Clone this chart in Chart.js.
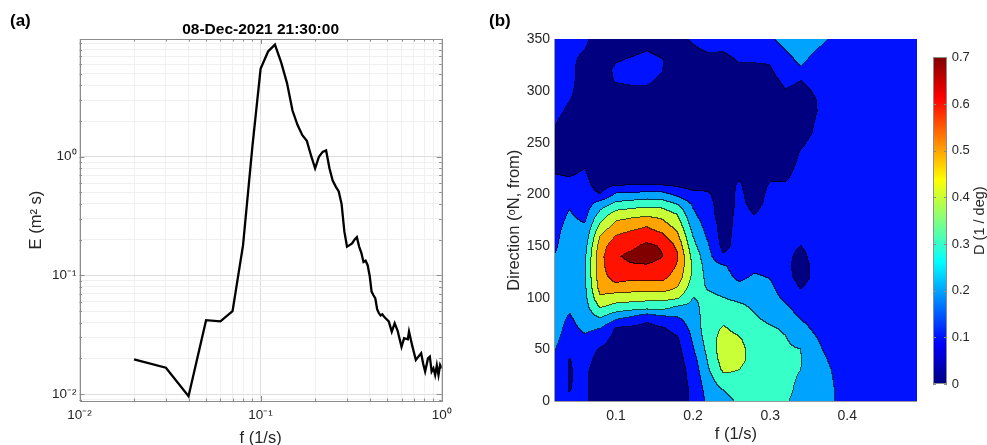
<!DOCTYPE html>
<html>
<head>
<meta charset="utf-8">
<script src="https://cdn.jsdelivr.net/npm/chart.js@4.4.1/dist/chart.umd.min.js"></script>
<style>
  html, body { margin: 0; padding: 0; background: #fff; }
  body { width: 987px; height: 445px; position: relative; overflow: hidden; font-family: "Liberation Sans", Arial, sans-serif; }
  canvas { position: absolute; top: 0; }
  .panel { position: absolute; font-weight: bold; font-size: 17px; line-height: 1; color: #000; z-index: 5; }
</style>
</head>
<body>
<canvas id="spec" width="490" height="445" style="left:0"></canvas>
<canvas id="dirspec" width="440" height="445" style="left:490px"></canvas>
<canvas id="cbar" width="62" height="445" style="left:925px"></canvas>
<div class="panel" style="left:10px;top:12px">(a)</div>
<div class="panel" style="left:489px;top:12px">(b)</div>
<script>
// (a) energy spectrum
const specFreq = [0.02,0.03,0.04,0.05,0.06,0.07,0.08,0.09,0.10,0.11,0.12,0.13,0.14,0.15,0.16,0.17,0.18,0.19,0.20,0.21,
  0.22,0.23,0.24,0.25,0.26,0.27,0.28,0.29,0.30,0.31,0.32,0.33,0.34,0.35,0.36,0.37,0.38,0.39,0.40,0.41,
  0.42,0.43,0.44,0.45,0.46,0.47,0.48,0.49,0.51,0.53,0.55,0.57,0.60,0.62,0.65,0.66,0.69,0.72,0.74,0.77,
  0.79,0.81,0.84,0.86,0.88,0.90,0.92,0.94,0.96,0.98,1.00];
const specEnergy = [0.0196,0.0167,0.0096,0.042,0.041,0.050,0.18,1.2,5.5,7.7,8.8,6.2,4.15,2.45,1.85,1.52,1.36,1.02,0.80,1.0,
  1.10,1.13,0.80,0.63,0.56,0.51,0.40,0.235,0.175,0.18,0.186,0.20,0.21,0.175,0.155,0.13,0.133,0.122,0.10,0.073,
  0.068,0.064,0.052,0.048,0.046,0.047,0.045,0.0436,0.041,0.0336,0.0395,0.0345,0.025,0.0296,0.029,0.0336,0.025,0.0194,0.0205,0.0221,
  0.018,0.0155,0.020,0.0207,0.0155,0.0165,0.0145,0.0175,0.0145,0.0176,0.0165];
const specTitle = '08-Dec-2021 21:30:00';
const logMajor = [0.01, 0.1, 1];
const logMajorLabels = ['10\u207B\u00B2', '10\u207B\u00B9', '10\u2070'];
const logSteps = [1, 2, 3, 4, 5, 6, 7, 8, 9];

// (b) directional distribution D(f, dir); one row per frequency, values at dirAngle
const dirFreq = [0.02,0.04,0.06,0.08,0.10,0.12,0.14,0.16,0.18,0.20,0.22,0.24,0.26,0.28,0.30,0.32,0.34,0.36,0.38,0.40,0.42,0.44,0.46,0.48,0.50];
const dirAngle = [0,10,20,30,40,50,60,70,80,90,100,110,120,130,140,150,160,170,180,190,200,210,220,230,240,250,260,270,280,290,300,310,320,330,340,350];
const spread = [
  [0.14,0.15,0.16,0.17,0.19,0.21,0.23,0.24,0.24,0.25,0.25,0.24,0.23,0.22,0.20,0.18,0.17,0.16,0.15,0.14,0.13,0.12,0.10,0.08,0.07,0.08,0.09,0.11,0.13,0.14,0.14,0.14,0.13,0.13,0.13,0.14],
  [0.11,0.098,0.095,0.095,0.097,0.12,0.15,0.17,0.19,0.21,0.23,0.25,0.26,0.27,0.27,0.26,0.25,0.23,0.21,0.19,0.15,0.12,0.09,0.06,0.05,0.05,0.05,0.06,0.08,0.10,0.12,0.13,0.13,0.13,0.13,0.14],
  [0.12,0.12,0.12,0.12,0.13,0.15,0.18,0.22,0.24,0.26,0.27,0.28,0.29,0.29,0.28,0.26,0.23,0.205,0.17,0.15,0.14,0.13,0.11,0.09,0.06,0.05,0.05,0.05,0.05,0.05,0.05,0.05,0.05,0.07,0.10,0.12],
  [0.03,0.03,0.04,0.05,0.07,0.09,0.14,0.20,0.30,0.40,0.49,0.54,0.56,0.57,0.57,0.55,0.50,0.42,0.34,0.25,0.10,0.05,0.04,0.04,0.04,0.04,0.04,0.04,0.04,0.04,0.04,0.04,0.04,0.04,0.04,0.05],
  [0.04,0.04,0.04,0.05,0.05,0.06,0.07,0.09,0.22,0.36,0.45,0.57,0.64,0.67,0.69,0.66,0.60,0.53,0.45,0.33,0.21,0.08,0.04,0.04,0.04,0.04,0.04,0.04,0.04,0.04,0.07,0.11,0.12,0.09,0.05,0.05],
  [0.03,0.03,0.03,0.04,0.04,0.05,0.06,0.08,0.18,0.34,0.45,0.55,0.63,0.69,0.72,0.68,0.63,0.56,0.47,0.35,0.22,0.08,0.04,0.04,0.04,0.04,0.04,0.04,0.04,0.04,0.08,0.12,0.13,0.11,0.07,0.05],
  [0.03,0.03,0.03,0.03,0.04,0.04,0.05,0.07,0.12,0.33,0.44,0.55,0.63,0.69,0.74,0.72,0.65,0.59,0.48,0.37,0.23,0.08,0.04,0.04,0.04,0.04,0.04,0.04,0.04,0.04,0.08,0.12,0.13,0.13,0.095,0.06],
  [0.03,0.03,0.03,0.04,0.04,0.05,0.06,0.09,0.17,0.33,0.44,0.56,0.63,0.67,0.705,0.69,0.62,0.54,0.47,0.36,0.23,0.08,0.04,0.04,0.04,0.04,0.04,0.04,0.04,0.04,0.05,0.08,0.105,0.105,0.07,0.05],
  [0.04,0.04,0.05,0.05,0.06,0.07,0.09,0.13,0.19,0.28,0.42,0.50,0.56,0.59,0.61,0.58,0.52,0.46,0.40,0.30,0.17,0.07,0.04,0.04,0.04,0.04,0.04,0.04,0.04,0.04,0.04,0.04,0.04,0.05,0.05,0.08],
  [0.12,0.12,0.13,0.14,0.16,0.19,0.21,0.23,0.25,0.27,0.30,0.35,0.38,0.39,0.37,0.33,0.30,0.26,0.22,0.19,0.12,0.06,0.05,0.05,0.05,0.05,0.05,0.05,0.05,0.05,0.05,0.05,0.05,0.06,0.09,0.11],
  [0.22,0.24,0.26,0.29,0.31,0.33,0.35,0.36,0.35,0.34,0.32,0.29,0.27,0.25,0.23,0.21,0.18,0.16,0.14,0.13,0.11,0.07,0.05,0.05,0.05,0.05,0.05,0.05,0.05,0.05,0.05,0.05,0.06,0.08,0.11,0.13],
  [0.28,0.30,0.36,0.42,0.45,0.46,0.44,0.41,0.37,0.33,0.30,0.26,0.23,0.21,0.11,0.07,0.06,0.06,0.05,0.05,0.05,0.05,0.05,0.05,0.05,0.05,0.05,0.05,0.05,0.05,0.05,0.05,0.05,0.07,0.11,0.13],
  [0.31,0.33,0.37,0.40,0.43,0.43,0.41,0.37,0.34,0.32,0.28,0.22,0.18,0.16,0.15,0.14,0.14,0.13,0.13,0.12,0.12,0.11,0.08,0.05,0.05,0.05,0.05,0.05,0.05,0.05,0.05,0.06,0.08,0.11,0.14,0.16],
  [0.32,0.32,0.34,0.35,0.36,0.36,0.35,0.33,0.31,0.29,0.27,0.24,0.21,0.18,0.15,0.13,0.12,0.11,0.10,0.08,0.06,0.05,0.05,0.05,0.05,0.05,0.05,0.05,0.05,0.05,0.05,0.06,0.08,0.11,0.13,0.15],
  [0.33,0.33,0.33,0.34,0.34,0.33,0.32,0.31,0.28,0.26,0.24,0.22,0.195,0.17,0.15,0.14,0.13,0.13,0.13,0.12,0.12,0.105,0.08,0.06,0.05,0.05,0.05,0.05,0.05,0.05,0.05,0.07,0.09,0.11,0.15,0.18],
  [0.31,0.32,0.32,0.32,0.32,0.31,0.305,0.29,0.25,0.22,0.18,0.15,0.13,0.12,0.12,0.12,0.13,0.13,0.13,0.13,0.12,0.105,0.08,0.06,0.05,0.05,0.05,0.05,0.06,0.08,0.095,0.12,0.15,0.17,0.20,0.24],
  [0.27,0.28,0.29,0.30,0.305,0.30,0.27,0.23,0.195,0.16,0.12,0.095,0.07,0.07,0.08,0.10,0.12,0.13,0.13,0.13,0.13,0.13,0.13,0.12,0.105,0.09,0.07,0.06,0.06,0.07,0.08,0.10,0.19,0.22,0.25,0.26],
  [0.25,0.25,0.25,0.25,0.24,0.22,0.205,0.18,0.16,0.15,0.14,0.13,0.12,0.12,0.13,0.13,0.13,0.13,0.13,0.13,0.13,0.13,0.13,0.13,0.12,0.12,0.11,0.105,0.097,0.098,0.11,0.13,0.15,0.17,0.20,0.23],
  [0.21,0.21,0.205,0.20,0.185,0.17,0.16,0.15,0.14,0.14,0.14,0.14,0.14,0.14,0.14,0.14,0.14,0.14,0.14,0.14,0.14,0.14,0.14,0.14,0.14,0.14,0.14,0.14,0.14,0.14,0.14,0.14,0.15,0.16,0.17,0.19],
  [0.16,0.16,0.16,0.155,0.16,0.16,0.15,0.15,0.15,0.15,0.15,0.15,0.15,0.15,0.15,0.15,0.15,0.15,0.15,0.15,0.15,0.15,0.15,0.15,0.15,0.15,0.15,0.15,0.15,0.15,0.15,0.15,0.15,0.15,0.16,0.17],
  [0.16,0.16,0.16,0.16,0.15,0.15,0.15,0.15,0.15,0.15,0.15,0.15,0.15,0.15,0.15,0.15,0.15,0.15,0.15,0.15,0.15,0.15,0.15,0.15,0.15,0.15,0.15,0.15,0.15,0.15,0.15,0.15,0.15,0.15,0.15,0.16],
  [0.15,0.15,0.15,0.15,0.15,0.15,0.15,0.15,0.15,0.15,0.15,0.15,0.15,0.15,0.15,0.15,0.15,0.15,0.15,0.15,0.15,0.15,0.15,0.15,0.15,0.15,0.15,0.15,0.15,0.15,0.15,0.15,0.15,0.15,0.15,0.15],
  [0.15,0.15,0.15,0.15,0.15,0.15,0.15,0.15,0.15,0.15,0.15,0.15,0.15,0.15,0.15,0.15,0.15,0.15,0.15,0.15,0.15,0.15,0.15,0.15,0.15,0.15,0.15,0.15,0.15,0.15,0.15,0.15,0.15,0.15,0.15,0.15],
  [0.15,0.15,0.15,0.15,0.15,0.15,0.15,0.15,0.15,0.15,0.15,0.15,0.15,0.15,0.15,0.15,0.15,0.15,0.15,0.15,0.15,0.15,0.15,0.15,0.15,0.15,0.15,0.15,0.15,0.15,0.15,0.15,0.15,0.15,0.15,0.15],
  [0.15,0.15,0.15,0.15,0.15,0.15,0.15,0.15,0.15,0.15,0.15,0.15,0.15,0.15,0.15,0.15,0.15,0.15,0.15,0.15,0.15,0.15,0.15,0.15,0.15,0.15,0.15,0.15,0.15,0.15,0.15,0.15,0.15,0.15,0.15,0.15]
];
const levels = [0, 0.1, 0.2, 0.3, 0.4, 0.5, 0.6, 0.7];
const dirXTicks = [0.1, 0.2, 0.3, 0.4];
const dirXTickLabels = ['0.1', '0.2', '0.3', '0.4'];
const dirYTicks = [0, 50, 100, 150, 200, 250, 300, 350];
const cbTicks = [0, 0.1, 0.2, 0.3, 0.4, 0.5, 0.6, 0.7];
const cbTickLabels = ['0', '0.1', '0.2', '0.3', '0.4', '0.5', '0.6', '0.7'];
const cbMax = 0.7;
const cbTitle = 'D (1 / deg)';

Chart.defaults.font.family = '"Liberation Sans", Arial, sans-serif';
Chart.defaults.color = '#262626';

const isMajor = v => logMajor.some(m => Math.abs(m - v) < m * 1e-6);
function logTicks(min, max) {
  const out = [];
  for (let e = -3; e <= 1; e++) {
    for (const m of logSteps) {
      const v = +(m * Math.pow(10, e)).toPrecision(3);
      if (v >= min * 0.9999 && v <= max * 1.0001) out.push({ value: v });
    }
  }
  return out;
}
function logLabel(v) {
  const i = logMajor.findIndex(m => Math.abs(m - v) < m * 1e-6);
  return i >= 0 ? logMajorLabels[i] : '';
}
const gridColor = c => (c.tick && isMajor(c.tick.value)) ? '#dedede' : '#f0f0f0';

// box + inward ticks like matlab
const boxPlugin = {
  id: 'boxTicks',
  afterDatasetsDraw(chart) {
    const { ctx, chartArea: a, scales: { x, y } } = chart;
    ctx.save();
    ctx.strokeStyle = '#8c8c8c';
    ctx.lineWidth = 1;
    ctx.beginPath();
    x.ticks.forEach(t => {
      const px = Math.round(x.getPixelForValue(t.value)) + 0.5;
      const L = isMajor(t.value) ? 5 : 2.5;
      ctx.moveTo(px, a.bottom); ctx.lineTo(px, a.bottom - L);
      ctx.moveTo(px, a.top); ctx.lineTo(px, a.top + L);
    });
    y.ticks.forEach(t => {
      const py = Math.round(y.getPixelForValue(t.value)) + 0.5;
      const L = isMajor(t.value) ? 5 : 2.5;
      ctx.moveTo(a.left, py); ctx.lineTo(a.left + L, py);
      ctx.moveTo(a.right, py); ctx.lineTo(a.right - L, py);
    });
    ctx.stroke();
    ctx.strokeRect(Math.round(a.left) + 0.5, Math.round(a.top) + 0.5, Math.round(a.right - a.left), Math.round(a.bottom - a.top));
    ctx.restore();
  }
};

new Chart(document.getElementById('spec'), {
  type: 'line',
  data: {
    datasets: [{
      data: specFreq.map((f, i) => ({ x: f, y: specEnergy[i] })),
      borderColor: '#000',
      borderWidth: 2.3,
      pointRadius: 0,
      tension: 0,
      fill: false
    }]
  },
  options: {
    responsive: false,
    animation: false,
    events: [],
    layout: { padding: { left: 23, right: 48.3, top: 0, bottom: 0 } },
    plugins: {
      legend: { display: false },
      tooltip: { enabled: false },
      title: {
        display: true, text: specTitle, fullSize: false, color: '#000',
        font: { size: 15.5, weight: 'bold' }, padding: { top: 20.5, bottom: 0 }
      }
    },
    scales: {
      x: {
        type: 'logarithmic', min: 0.01, max: 1,
        afterBuildTicks: s => { s.ticks = logTicks(0.01, 1); },
        afterFit: s => { s.height = 44; },
        ticks: { autoSkip: false, maxRotation: 0, padding: 6, font: { size: 13.5 }, callback: logLabel },
        grid: { drawTicks: false, color: gridColor },
        border: { display: false },
        title: { display: true, text: 'f (1/s)', font: { size: 16.5 }, padding: { top: 0, bottom: -3 } }
      },
      y: {
        type: 'logarithmic', min: 0.00875, max: 9.8,
        afterBuildTicks: s => { s.ticks = logTicks(0.00875, 9.8); },
        afterFit: s => { s.width = 56.5; },
        ticks: { autoSkip: false, padding: 3, font: { size: 13.5 }, callback: logLabel },
        grid: { drawTicks: false, color: gridColor },
        border: { display: false },
        title: { display: true, text: 'E (m\u00B2 s)', font: { size: 16.5 }, padding: { top: 4, bottom: 4 } }
      }
    }
  },
  plugins: [boxPlugin]
});

// ---- contour fill for (b) ----
function locate(arr, v) {
  let k = 0;
  while (k < arr.length - 2 && v > arr[k + 1]) k++;
  let t = (v - arr[k]) / (arr[k + 1] - arr[k]);
  t = Math.max(0, Math.min(1, t));
  return [k, t];
}
function jet(t) {
  const c = v => Math.max(0, Math.min(1, v));
  return [c(1.5 - Math.abs(4 * t - 3)), c(1.5 - Math.abs(4 * t - 2)), c(1.5 - Math.abs(4 * t - 1))];
}

const contourPlugin = {
  id: 'contourFill',
  beforeDatasetsDraw(chart) {
    const { ctx, chartArea: a, scales: { x, y } } = chart;
    const x0 = Math.round(a.left), y0 = Math.round(a.top);
    const w = Math.round(a.right) - x0, h = Math.round(a.bottom) - y0;
    const cols = [], rows = [];
    for (let i = 0; i < w; i++) cols.push(locate(dirFreq, x.getValueForPixel(x0 + i + 0.5)));
    for (let j = 0; j < h; j++) rows.push(locate(dirAngle, y.getValueForPixel(y0 + j + 0.5)));
    const band = new Int8Array(w * h);
    for (let j = 0; j < h; j++) {
      const [dk, dt] = rows[j];
      for (let i = 0; i < w; i++) {
        const [fk, ft] = cols[i];
        const lo = spread[fk], hi = spread[fk + 1];
        const v = (lo[dk] * (1 - dt) + lo[dk + 1] * dt) * (1 - ft) + (hi[dk] * (1 - dt) + hi[dk + 1] * dt) * ft;
        let b = 0;
        while (b < levels.length - 1 && v >= levels[b + 1]) b++;
        band[j * w + i] = b;
      }
    }
    const pal = levels.map(l => jet(l / cbMax).map(c => Math.round(c * 255)));
    const img = ctx.createImageData(w, h);
    for (let j = 0; j < h; j++) {
      for (let i = 0; i < w; i++) {
        const b = band[j * w + i];
        const edge = (i + 1 < w && band[j * w + i + 1] !== b) || (j + 1 < h && band[(j + 1) * w + i] !== b);
        const k = 0.32;
        const p = pal[b];
        const o = (j * w + i) * 4;
        img.data[o] = edge ? p[0] * k : p[0];
        img.data[o + 1] = edge ? p[1] * k : p[1];
        img.data[o + 2] = edge ? p[2] * k : p[2];
        img.data[o + 3] = 255;
      }
    }
    ctx.putImageData(img, x0, y0);
  },
  afterDatasetsDraw(chart) {
    const { ctx, chartArea: a } = chart;
    ctx.save();
    ctx.strokeStyle = '#9a9a9a';
    ctx.lineWidth = 1;
    ctx.beginPath();
    ctx.moveTo(Math.round(a.left) - 0.5, Math.round(a.top));
    ctx.lineTo(Math.round(a.left) - 0.5, Math.round(a.bottom) + 0.5);
    ctx.lineTo(Math.round(a.right), Math.round(a.bottom) + 0.5);
    ctx.stroke();
    ctx.restore();
  }
};

new Chart(document.getElementById('dirspec'), {
  type: 'scatter',
  data: { datasets: [] },
  options: {
    responsive: false,
    animation: false,
    events: [],
    layout: { padding: { left: 10.4, right: 13.3, top: 39.3, bottom: 0 } },
    plugins: { legend: { display: false }, tooltip: { enabled: false } },
    scales: {
      x: {
        type: 'linear', min: 0.0209, max: 0.49,
        afterBuildTicks: s => { s.ticks = dirXTicks.map(v => ({ value: v })); },
        afterFit: s => { s.height = 44; },
        ticks: { padding: 7, font: { size: 14 }, callback: (v, i) => dirXTickLabels[i] },
        grid: { display: false, drawTicks: false },
        border: { display: false },
        title: { display: true, text: 'f (1/s)', font: { size: 16.5 }, padding: { top: 0, bottom: 1 } }
      },
      y: {
        type: 'linear', min: 0, max: 350,
        afterBuildTicks: s => { s.ticks = dirYTicks.map(v => ({ value: v })); },
        afterFit: s => { s.width = 54.6; },
        ticks: { padding: 5, font: { size: 14 } },
        grid: { display: false, drawTicks: false },
        border: { display: false },
        title: { display: true, text: 'Direction (\u1D52N, from)', font: { size: 16.5 }, padding: { top: 4, bottom: 4 } }
      }
    }
  },
  plugins: [contourPlugin]
});

// ---- colorbar ----
const colorbarPlugin = {
  id: 'colorbar',
  beforeDatasetsDraw(chart) {
    const { ctx, chartArea: a, scales: { y } } = chart;
    const top = Math.round(a.top), bot = Math.round(a.bottom);
    const left = Math.round(a.left), right = Math.round(a.right);
    for (let py = top; py < bot; py++) {
      const v = Math.max(0, Math.min(cbMax, y.getValueForPixel(py + 0.5)));
      const c = jet(v / cbMax).map(u => Math.round(u * 255));
      ctx.fillStyle = 'rgb(' + c.join(',') + ')';
      ctx.fillRect(left, py, right - left, 1);
    }
    ctx.save();
    ctx.strokeStyle = '#8c8c8c';
    ctx.lineWidth = 1;
    ctx.strokeRect(left + 0.5, top + 0.5, right - left - 1, bot - top - 1);
    ctx.beginPath();
    cbTicks.forEach(v => {
      const py = Math.round(y.getPixelForValue(v)) + 0.5;
      ctx.moveTo(left, py); ctx.lineTo(left + 3, py);
      ctx.moveTo(right, py); ctx.lineTo(right - 3, py);
    });
    ctx.stroke();
    ctx.translate(54.5, (a.top + a.bottom) / 2);
    ctx.rotate(-Math.PI / 2);
    ctx.textAlign = 'center';
    ctx.textBaseline = 'middle';
    ctx.fillStyle = '#262626';
    ctx.font = '14.5px "Liberation Sans", Arial, sans-serif';
    ctx.fillText(cbTitle, 0, 0);
    ctx.restore();
  }
};

new Chart(document.getElementById('cbar'), {
  type: 'scatter',
  data: { datasets: [] },
  options: {
    responsive: false,
    animation: false,
    events: [],
    layout: { padding: { left: 8.3, right: 0, top: 57.3, bottom: 61 } },
    plugins: { legend: { display: false }, tooltip: { enabled: false } },
    scales: {
      x: { display: false, min: 0, max: 1 },
      y: {
        position: 'right', min: 0, max: cbMax,
        afterBuildTicks: s => { s.ticks = cbTicks.map(v => ({ value: v })); },
        afterFit: s => { s.width = 40.3; },
        ticks: { padding: 5, font: { size: 13 }, callback: (v, i) => cbTickLabels[i] },
        grid: { display: false, drawTicks: false },
        border: { display: false }
      }
    }
  },
  plugins: [colorbarPlugin]
});
</script>
</body>
</html>
